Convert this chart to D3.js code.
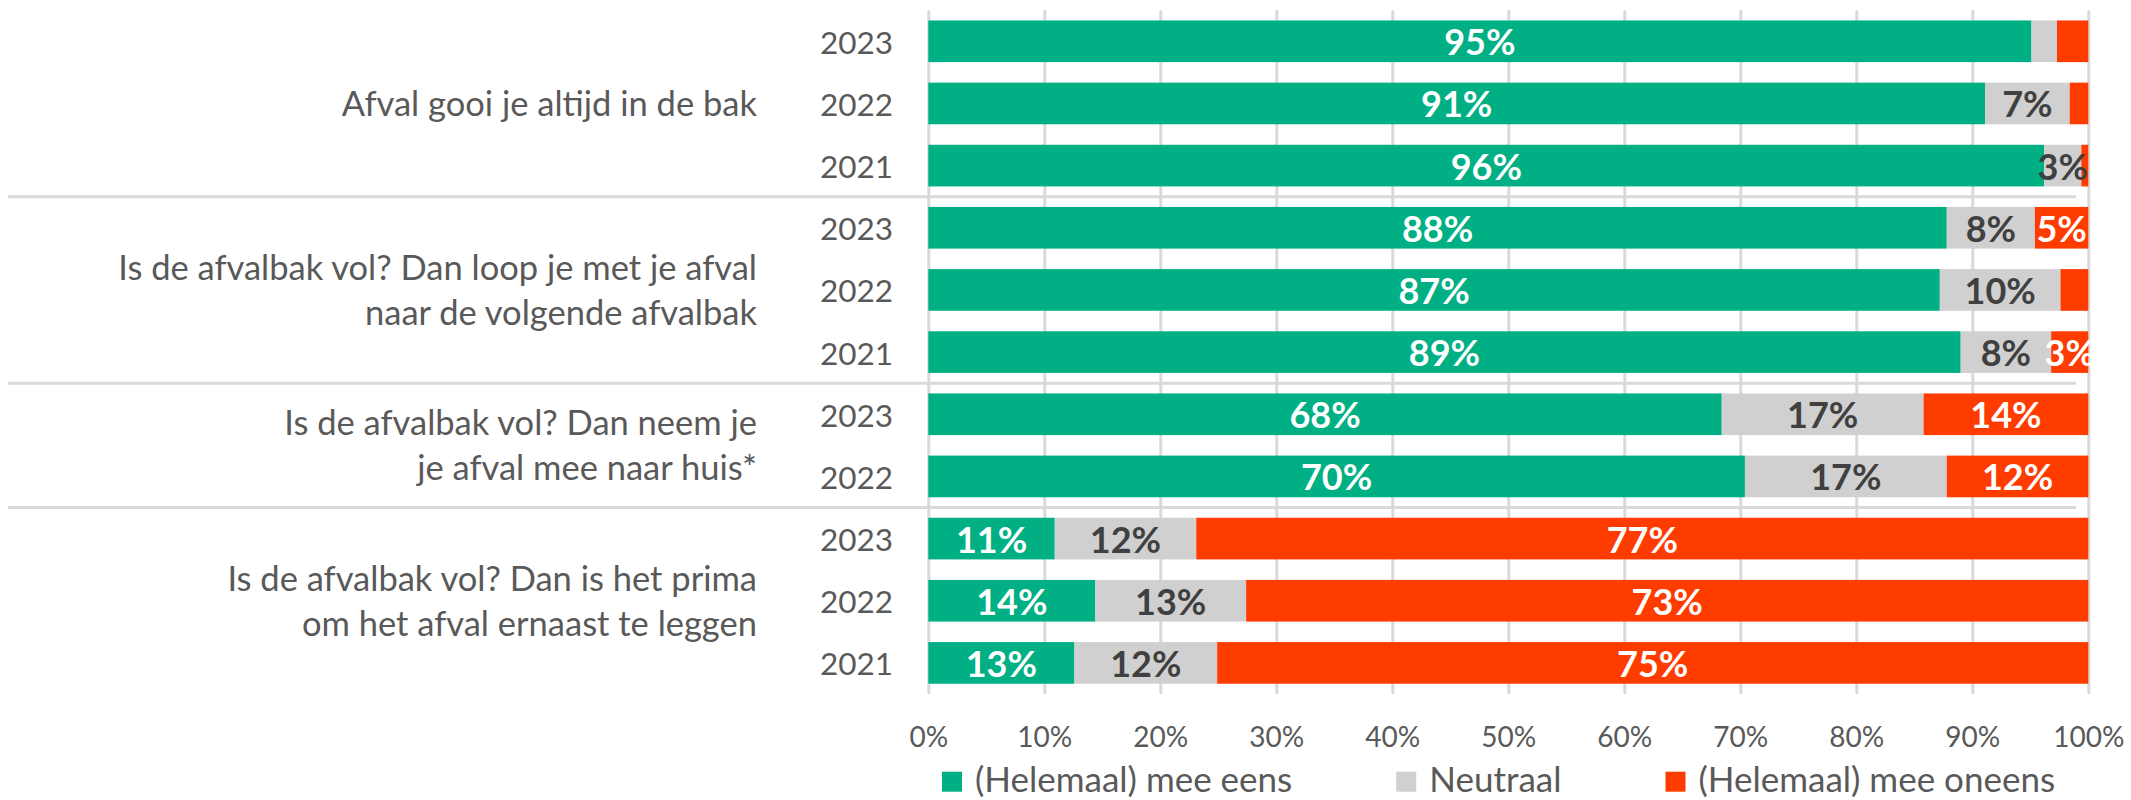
<!DOCTYPE html>
<html>
<head>
<meta charset="utf-8">
<script src="https://cdn.jsdelivr.net/npm/d3@7"></script>
<style>
  body { margin: 0; background: #fff; }
  text { font-family: Lato, "Open Sans", sans-serif; }
</style>
</head>
<body>
<div id="chart"></div>
<script>
var questions = [
    ['Afval gooi je altijd in de bak'],
    ['Is de afvalbak vol? Dan loop je met je afval', 'naar de volgende afvalbak'],
    ['Is de afvalbak vol? Dan neem je', 'je afval mee naar huis*'],
    ['Is de afvalbak vol? Dan is het prima', 'om het afval ernaast te leggen']
];
var years = [
    ['2023', '2022', '2021'],
    ['2023', '2022', '2021'],
    ['2023', '2022'],
    ['2023', '2022', '2021']
];
// one value per row, top to bottom
var eens = [95.1, 91.1, 96.2, 87.8, 87.2, 89.0, 68.4, 70.4, 10.9, 14.4, 12.6];
var neutraal = [2.2, 7.3, 3.2, 7.6, 10.4, 7.8, 17.4, 17.4, 12.2, 13.0, 12.3];
var oneens = [2.7, 1.6, 0.6, 4.6, 2.4, 3.2, 14.2, 12.2, 76.9, 72.6, 75.1];
var seriesNames = ['(Helemaal) mee eens', 'Neutraal', '(Helemaal) mee oneens'];
var tickValues = [0, 10, 20, 30, 40, 50, 60, 70, 80, 90, 100];

var colors = ['#00B084', '#D0D0D0', '#FF3C00'];
var labelColors = ['#FFFFFF', '#404040', '#FFFFFF'];
var textColor = '#595959';
var gridColor = '#D9D9D9';

function init() {
    'use strict';
    var width = 2131, height = 800;
    var left = 928.3, right = 2088.3, top = 10.2, bottom = 694;

    var rows = [];
    questions.forEach(function (q, qi) {
        years[qi].forEach(function (yr) {
            rows.push({ q: qi, year: yr, id: qi + '-' + yr });
        });
    });
    rows.forEach(function (r, i) { r.values = [eens[i], neutraal[i], oneens[i]]; });

    var x = d3.scaleLinear().domain([0, 100]).range([left, right]);
    var y = d3.scaleBand()
        .domain(rows.map(function (r) { return r.id; }))
        .range([top, bottom])
        .paddingInner(0.33)
        .paddingOuter(0.165);
    var bw = y.bandwidth();

    var series = d3.stack()
        .keys([0, 1, 2])
        .value(function (d, k) { return d.values[k]; })(rows);

    var svg = d3.select('#chart')
        .append('svg')
        .attr('width', width)
        .attr('height', height);

    svg.append('defs').append('clipPath').attr('id', 'plotclip')
        .append('rect')
        .attr('x', left).attr('y', top)
        .attr('width', right - left + 2).attr('height', bottom - top);

    // gridlines
    var grid = svg.append('g')
        .attr('transform', 'translate(0,' + bottom + ')')
        .call(d3.axisBottom(x).tickValues(tickValues).tickSize(-(bottom - top)).tickFormat(''));
    grid.select('.domain').remove();
    grid.selectAll('line').attr('stroke', gridColor).attr('stroke-width', 3);

    // group separators
    questions.forEach(function (q, qi) {
        if (qi === questions.length - 1) { return; }
        var last = qi + '-' + years[qi][years[qi].length - 1];
        var yy = y(last) + bw + y.step() * y.paddingInner() / 2;
        svg.append('line')
            .attr('x1', 8).attr('x2', 2076)
            .attr('y1', yy).attr('y2', yy)
            .attr('stroke', gridColor)
            .attr('stroke-width', 3);
    });

    // bars
    var groups = svg.selectAll('g.series')
        .data(series)
        .enter()
        .append('g')
        .attr('class', 'series')
        .attr('fill', function (d, i) { return colors[i]; });
    groups.selectAll('rect')
        .data(function (d) { return d; })
        .enter()
        .append('rect')
        .attr('x', function (d) { return x(d[0]); })
        .attr('width', function (d) { return x(d[1]) - x(d[0]); })
        .attr('y', function (d) { return y(d.data.id); })
        .attr('height', bw);

    // data labels
    var labels = svg.append('g').attr('clip-path', 'url(#plotclip)');
    series.forEach(function (s, si) {
        s.forEach(function (d) {
            var v = d[1] - d[0];
            if (v < 3) { return; }
            labels.append('text')
                .attr('x', (x(d[0]) + x(d[1])) / 2)
                .attr('y', y(d.data.id) + bw / 2 + 14)
                .attr('text-anchor', 'middle')
                .attr('font-size', 36)
                .attr('font-weight', 'bold')
                .attr('fill', labelColors[si])
                .text(Math.round(v) + '%');
        });
    });

    // year labels
    svg.selectAll('text.year')
        .data(rows)
        .enter()
        .append('text')
        .attr('class', 'year')
        .attr('x', 893)
        .attr('y', function (d) { return y(d.id) + bw / 2 + 12.5; })
        .attr('text-anchor', 'end')
        .attr('font-size', 31.5)
        .attr('fill', textColor)
        .text(function (d) { return d.year; });

    // question labels
    questions.forEach(function (lines, qi) {
        var first = qi + '-' + years[qi][0];
        var last = qi + '-' + years[qi][years[qi].length - 1];
        var mid = (y(first) + y(last) + bw) / 2;
        var t = svg.append('text')
            .attr('text-anchor', 'end')
            .attr('font-size', 34.5)
            .attr('fill', textColor);
        lines.forEach(function (line, li) {
            t.append('tspan')
                .attr('x', 757)
                .attr('y', mid + 12.5 + (li - (lines.length - 1) / 2) * 45)
                .text(line);
        });
    });

    // x axis labels
    var axis = svg.append('g')
        .attr('transform', 'translate(0,747)')
        .call(d3.axisBottom(x).tickValues(tickValues).tickSize(0).tickFormat(function (d) { return d + '%'; }));
    axis.select('.domain').remove();
    axis.selectAll('text')
        .attr('y', 0).attr('dy', 0)
        .attr('font-family', 'Lato, sans-serif')
        .attr('font-size', 28)
        .attr('fill', textColor);

    // legend
    var lx = 942;
    seriesNames.forEach(function (name, i) {
        svg.append('rect')
            .attr('x', lx).attr('y', 771.7)
            .attr('width', 20).attr('height', 20)
            .attr('fill', colors[i]);
        var t = svg.append('text')
            .attr('x', lx + 33).attr('y', 792)
            .attr('font-size', 35)
            .attr('fill', textColor)
            .text(name);
        lx += 33 + t.node().getComputedTextLength() + 104;
    });
}

window.onload = init;
</script>
</body>
</html>
